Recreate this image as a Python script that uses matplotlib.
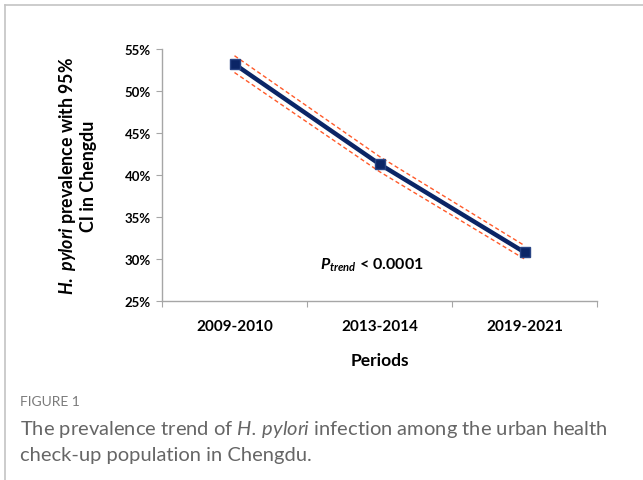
import matplotlib
matplotlib.use("Agg")
import matplotlib.pyplot as plt
from matplotlib.lines import Line2D

plt.rcParams["font.family"] = ["Lato", "DejaVu Sans"]
plt.rcParams["mathtext.fontset"] = "custom"
plt.rcParams["mathtext.it"] = "Lato:italic:bold"
plt.rcParams["mathtext.rm"] = "Lato:bold"
plt.rcParams["mathtext.bf"] = "Lato:bold"
plt.rcParams["mathtext.sf"] = "Lato:italic"

# Data
periods = ["2009-2010", "2013-2014", "2019-2021"]
prevalence = [53.2, 41.3, 30.8]
ci_lower = [52.2, 40.4, 30.0]
ci_upper = [54.2, 42.2, 31.6]
y_ticks = [25, 30, 35, 40, 45, 50, 55]

W, H = 643, 481
fig = plt.figure(figsize=(W / 100, H / 100), dpi=100)

# Panel frame lines
frame_col = "#c4c4c4"
fig.add_artist(Line2D([5 / W, 1], [1 - 6 / H, 1 - 6 / H], color=frame_col, lw=1.2))
fig.add_artist(Line2D([5 / W, 5 / W], [0, 1 - 6 / H], color=frame_col, lw=1.2))

ax = fig.add_axes([162 / W, 1 - 302 / H, (597 - 162) / W, (302 - 50) / H])
x = list(range(len(periods)))

navy = "#0b2566"
ci_col = "#ff5a2a"
ax.plot(x, ci_upper, color=ci_col, lw=1.0, ls=(0, (3, 2)), zorder=2)
ax.plot(x, ci_lower, color=ci_col, lw=1.0, ls=(0, (3, 2)), zorder=2)
ax.plot(x, prevalence, color=navy, lw=3.2, marker="s", markersize=7,
        markerfacecolor=navy, markeredgecolor="#2a4585", zorder=3)

ax.set_xlim(-0.5, 2.5)
ax.set_ylim(25, 55)
ax.set_yticks(y_ticks)
ax.set_yticklabels([f"{v}%" for v in y_ticks], fontsize=9.5, fontweight="bold")
ax.set_xticks([-0.5, 0.5, 1.5, 2.5])
ax.set_xticklabels([])
ax.set_xticks(x, minor=True)
ax.set_xticklabels(periods, minor=True, fontsize=11, fontweight="bold")
ax.tick_params(axis="x", which="minor", length=0, pad=13)
ax.tick_params(axis="x", which="major", length=4, color="#a6a6a6", direction="out")
ax.tick_params(axis="y", length=4, color="#a6a6a6", direction="out", pad=4)

for s in ["top", "right"]:
    ax.spines[s].set_visible(False)
for s in ["left", "bottom"]:
    ax.spines[s].set_color("#a6a6a6")
    ax.spines[s].set_linewidth(1.0)

ax.set_xlabel("Periods", fontsize=12.5, fontweight="bold", labelpad=14)

ax.text(0.95, 29.4, r"$\mathit{P_{trend}}$ < 0.0001", ha="center", va="center",
        fontsize=11.5, fontweight="bold")

fig.text(77 / W, 1 - 176 / H,
         r"$\mathit{H.\ pylori}$ prevalence with 95%" + "\nCI in Chengdu",
         rotation=90, ha="center", va="center", multialignment="center",
         fontsize=12.8, fontweight="bold", linespacing=1.15)

# Caption
cap_col = "#666666"
fig.text(20 / W, 1 - 402 / H, "FIGURE 1", fontsize=10, color="#7a7a7a",
         ha="left", va="center")
fig.text(20 / W, 1 - 430 / H,
         r"The prevalence trend of $\mathsf{H.\,pylori}$ infection among the urban health",
         fontsize=14.5, color=cap_col, ha="left", va="center")
fig.text(20 / W, 1 - 456 / H, "check-up population in Chengdu.",
         fontsize=14.5, color=cap_col, ha="left", va="center")

fig.savefig("out.png", dpi=100)
